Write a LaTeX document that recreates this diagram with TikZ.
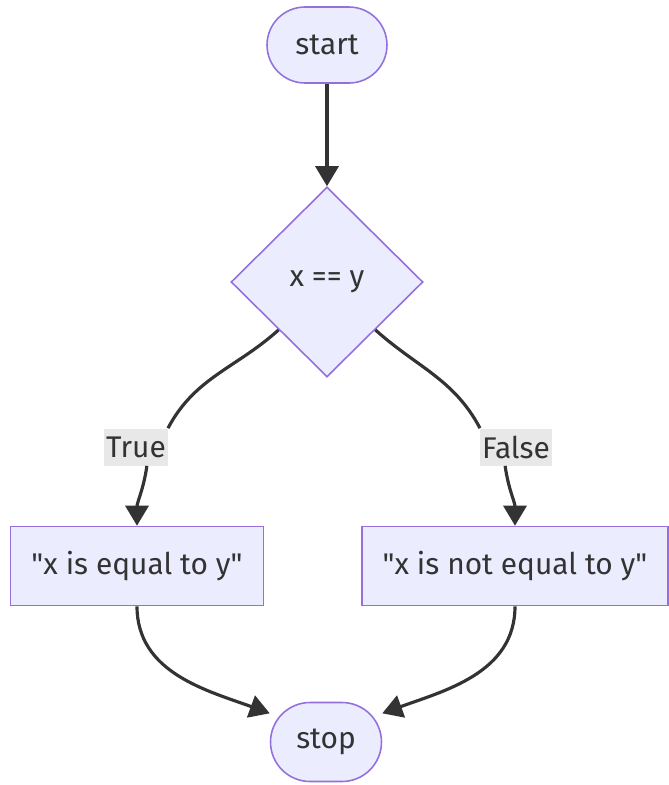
\documentclass[tikz,border=0pt]{standalone}
\usepackage{fontspec}
\setmainfont{Fira Sans}
\usetikzlibrary{shapes.geometric,arrows.meta,positioning}
\definecolor{mmfill}{HTML}{ECECFF}
\definecolor{mmline}{HTML}{9370DB}
\definecolor{mmtext}{HTML}{333333}
\definecolor{mmlabel}{HTML}{E8E8E8}

\begin{document}
\begin{tikzpicture}[x=0.02cm, y=-0.02cm,
    every node/.style={font=\fontsize{17}{20}\selectfont, text=mmtext},
    term/.style={rectangle, rounded corners=0.76cm, draw=mmline, fill=mmfill, line width=0.9pt, minimum width=2.4cm, minimum height=1.52cm},
    cond/.style={diamond, draw=mmline, fill=mmfill, line width=0.9pt, minimum width=3.84cm, minimum height=3.8cm, inner sep=0pt},
    proc/.style={rectangle, draw=mmline, fill=mmfill, line width=0.9pt, minimum height=1.58cm},
    lbl/.style={rectangle, fill=mmlabel, inner sep=1pt, minimum height=0.74cm},
    link/.style={line width=1.8pt, draw=mmtext},
    arr/.style={link, -{Triangle[length=4mm, width=4.6mm]}}
]
    \useasboundingbox (0,0) rectangle (669,785);

    % Nodes
    \node (start) [term] at (327,45) {start};
    \node (test) [cond] at (327,282) {x == y};
    \node (yes) [lbl] at (136,447) {True};
    \node (no) [lbl] at (516,447) {False};
    \node (eq) [proc, minimum width=5.06cm] at (137,566) {\textquotedbl x is equal to y\textquotedbl};
    \node (neq) [proc, minimum width=6.12cm] at (515,566) {\textquotedbl x is not equal to y\textquotedbl};
    \node (stop) [term, rounded corners=0.79cm, minimum width=2.22cm, minimum height=1.58cm] at (326,742) {stop};

    % Edges
    \draw [arr] (start) -- (test);
    \draw [link] (test.south west) to[out=222, in=62] (yes.north east);
    \draw [arr] (yes.300) to[out=262, in=90] (eq.north);
    \draw [link] (test.south east) to[out=-42, in=118] (no.north west);
    \draw [arr] (no.240) to[out=278, in=90] (neq.north);
    \draw [arr] (eq.south) to[out=270, in=160] (stop.153);
    \draw [arr] (neq.south) to[out=270, in=20] (stop.27);
\end{tikzpicture}
\end{document}
